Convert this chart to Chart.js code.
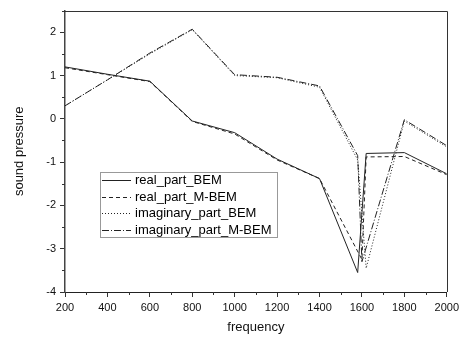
<!DOCTYPE html>
<html lang="en">
<head>
<meta charset="UTF-8">
<title>sound pressure</title>
<script src="https://cdn.jsdelivr.net/npm/chart.js"></script>
<style>
  body { margin: 0; background: #fff; }
</style>
</head>
<body>
<canvas id="grafico" width="463" height="338"></canvas>
<script>
// frequencies (x) shared by all series, null = no point there
const freq = [200, 400, 600, 800, 1000, 1200, 1400, 1580, 1600, 1620, 1800, 2000];
const realBEM  = [1.20, 1.03, 0.87, -0.05, -0.32, -0.93, -1.38, -3.55, null, -0.80, -0.78, -1.27];
const realMBEM = [1.18, 1.02, 0.86, -0.06, -0.35, -0.95, -1.38, null, -3.25, -0.88, -0.87, -1.29];
const imagBEM  = [0.30, 0.90, 1.50, 2.06, 1.00, 0.95, 0.73, -0.95, null, -3.45, -0.05, -0.65];
const imagMBEM = [0.30, 0.90, 1.52, 2.07, 1.02, 0.96, 0.76, -0.85, -3.30, null, -0.02, -0.62];

const seriesNames = ['real_part_BEM', 'real_part_M-BEM', 'imaginary_part_BEM', 'imaginary_part_M-BEM'];
const xMinorTicks = [300, 500, 700, 900, 1100, 1300, 1500, 1700, 1900];
const yMinorTicks = [-3.5, -2.5, -1.5, -0.5, 0.5, 1.5, 2.5];

const dashes = [[], [4, 3], [1, 2], [7, 2, 1, 2]];
const fonte = 'Liberation Sans, Arial, sans-serif';

function pontos(vals) {
    return freq.map((f, i) => ({ x: f, y: vals[i] }));
}

const moldura = {
    id: 'moldura',
    afterDraw(chart) {
        const ctx = chart.ctx;
        const a = chart.chartArea;
        const x = chart.scales.x;
        const y = chart.scales.y;
        ctx.save();
        ctx.strokeStyle = '#333';
        ctx.lineWidth = 1;
        ctx.setLineDash([]);
        ctx.beginPath();
        ctx.moveTo(a.left, Math.round(a.top) + 0.5);
        ctx.lineTo(Math.round(a.right) + 0.5, Math.round(a.top) + 0.5);
        ctx.lineTo(Math.round(a.right) + 0.5, a.bottom);
        // minor ticks
        xMinorTicks.forEach(v => {
            const px = Math.round(x.getPixelForValue(v)) + 0.5;
            ctx.moveTo(px, a.bottom);
            ctx.lineTo(px, a.bottom + 3);
        });
        yMinorTicks.forEach(v => {
            const py = Math.round(y.getPixelForValue(v)) + 0.5;
            ctx.moveTo(a.left, py);
            ctx.lineTo(a.left - 3, py);
        });
        ctx.stroke();

        // legend box
        const lx = a.left + 35, ly = y.getPixelForValue(-1.23), lw = 177, lh = 65;
        ctx.strokeStyle = '#999';
        ctx.strokeRect(lx + 0.5, Math.round(ly) + 0.5, lw, lh);
        ctx.font = '13px ' + fonte;
        ctx.textBaseline = 'middle';
        ctx.fillStyle = '#000';
        seriesNames.forEach((nome, i) => {
            const ry = Math.round(ly + 8 + i * 16.5) + 0.5;
            ctx.strokeStyle = '#222';
            ctx.setLineDash(dashes[i]);
            ctx.beginPath();
            ctx.moveTo(lx + 2, ry);
            ctx.lineTo(lx + 31, ry);
            ctx.stroke();
            ctx.fillText(nome, lx + 35, ry);
        });
        ctx.restore();
    }
};

const Grafico = new Chart(document.getElementById('grafico'), {
    type: 'line',
    data: {
        datasets: [realBEM, realMBEM, imagBEM, imagMBEM].map((vals, i) => ({
            label: seriesNames[i],
            data: pontos(vals),
            borderColor: '#222',
            borderWidth: 1,
            borderDash: dashes[i],
            pointRadius: 0,
            spanGaps: true,
            tension: 0
        }))
    },
    options: {
        responsive: false,
        animation: false,
        layout: { padding: { top: 4, right: 15, left: 0, bottom: 0 } },
        plugins: {
            legend: { display: false },
            tooltip: { enabled: false }
        },
        scales: {
            x: {
                type: 'linear',
                min: 200,
                max: 2000,
                afterFit: s => { s.height = 46; },
                ticks: { stepSize: 200, color: '#111', padding: 4, maxRotation: 0,
                         format: { useGrouping: false },
                         font: { family: fonte, size: 11 } },
                grid: { drawOnChartArea: false, tickLength: 5, color: '#333' },
                border: { color: '#222', width: 1 },
                title: { display: true, text: 'frequency', color: '#111',
                         font: { family: fonte, size: 13 }, padding: { top: 0, bottom: 3 } }
            },
            y: {
                min: -4,
                max: 2.5,
                afterFit: s => { s.width = 65; },
                afterBuildTicks: s => { s.ticks = s.ticks.filter(t => Number.isInteger(t.value)); },
                ticks: { stepSize: 1, color: '#111', padding: 4,
                         font: { family: fonte, size: 11 } },
                grid: { drawOnChartArea: false, tickLength: 5, color: '#333' },
                border: { color: '#444', width: 1.5 },
                title: { display: true, text: 'sound pressure', color: '#111',
                         font: { family: fonte, size: 13 }, padding: { top: 12, bottom: 0 } }
            }
        }
    },
    plugins: [moldura]
});
</script>
</body>
</html>
